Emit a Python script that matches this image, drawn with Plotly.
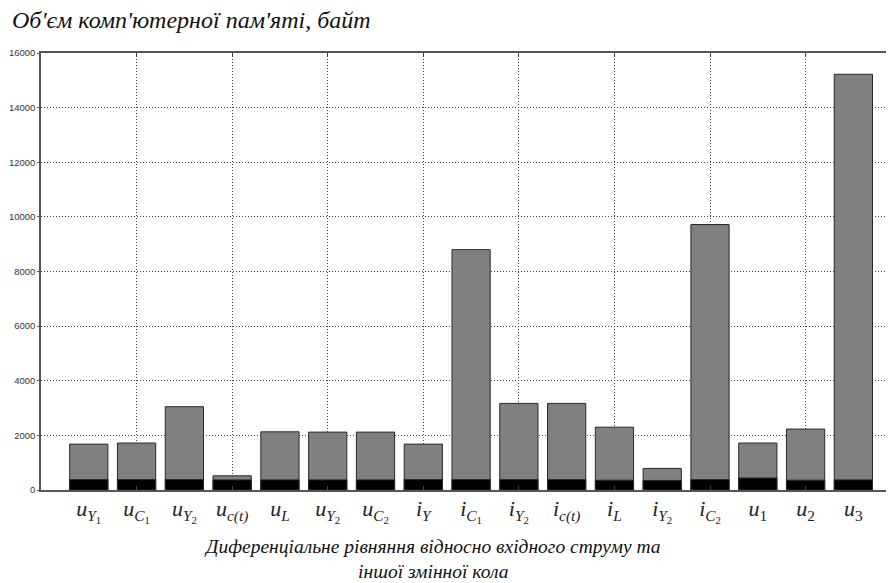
import plotly.graph_objects as go

positions = list(range(1, 18))
labels = [
    "<i>u</i><sub><i>Y</i><sub>1</sub></sub>",
    "<i>u</i><sub><i>C</i><sub>1</sub></sub>",
    "<i>u</i><sub><i>Y</i><sub>2</sub></sub>",
    "<i>u</i><sub><i>c(t)</i></sub>",
    "<i>u</i><sub><i>L</i></sub>",
    "<i>u</i><sub><i>Y</i><sub>2</sub></sub>",
    "<i>u</i><sub><i>C</i><sub>2</sub></sub>",
    "<i>i</i><sub><i>Y</i></sub>",
    "<i>i</i><sub><i>C</i><sub>1</sub></sub>",
    "<i>i</i><sub><i>Y</i><sub>2</sub></sub>",
    "<i>i</i><sub><i>c(t)</i></sub>",
    "<i>i</i><sub><i>L</i></sub>",
    "<i>i</i><sub><i>Y</i><sub>2</sub></sub>",
    "<i>i</i><sub><i>C</i><sub>2</sub></sub>",
    "<i>u</i><sub>1</sub>",
    "<i>u</i><sub>2</sub>",
    "<i>u</i><sub>3</sub>",
]
total_memory = [1680, 1720, 3050, 520, 2130, 2120, 2120, 1680, 8800, 3170, 3170,
                2300, 790, 9720, 1720, 2230, 15220]
base_memory = [380, 380, 380, 370, 370, 370, 370, 380, 380, 380, 380,
               360, 350, 380, 440, 360, 370]
grid_positions = [2, 4, 6, 8, 10, 12, 14, 16]
y_ticks = [0, 2000, 4000, 6000, 8000, 10000, 12000, 14000, 16000]

title_text = "<i>Об'єм комп'ютерної пам'яті, байт</i>"
xlabel_text = "<i>Диференціальне рівняння відносно вхідного струму та</i><br><i>іншої змінної кола</i>"

# page body has an 8px default margin; figure sized to fill the rest of the window
W, H = 886, 575
L, T, B = 33, 45, 93
PH = H - T - B
PW = W - L

fig = go.Figure()
fig.add_trace(go.Bar(x=positions, y=total_memory, width=0.8,
                     marker=dict(color="#808080", line=dict(color="#2a2a2a", width=1)),
                     xaxis="x", yaxis="y", showlegend=False))
fig.add_trace(go.Bar(x=positions, y=base_memory, width=0.8,
                     marker=dict(color="#000000", line=dict(color="#2a2a2a", width=1)),
                     xaxis="x2", yaxis="y", showlegend=False))

xr = [0, 17.85]
fig.update_layout(
    width=W, height=H,
    margin=dict(l=L, r=0, t=T, b=B),
    paper_bgcolor="white", plot_bgcolor="white",
    barmode="overlay",
    title=dict(text=title_text, xref="container", x=4/W, xanchor="left",
               yref="container", y=1-3/H, yanchor="top", pad=dict(t=0, l=0),
               font=dict(family="Liberation Serif", size=24, color="#111")),
    xaxis=dict(range=xr, tickmode="array", tickvals=grid_positions,
               showticklabels=False, showgrid=True, griddash="1px,2px",
               gridcolor="#444", gridwidth=1, zeroline=False, automargin=False,
               showline=True, linecolor="#555", linewidth=1.5, mirror="ticks",
               ticks="inside", ticklen=4, tickcolor="#444"),
    xaxis2=dict(range=xr, overlaying="x", anchor="y", side="bottom",
                tickmode="array", tickvals=positions, ticktext=labels,
                showgrid=False, zeroline=False, showline=False, ticks="",
                automargin=False, ticklabelstandoff=3,
                tickfont=dict(family="Liberation Serif", size=22, color="#222")),
    yaxis=dict(range=[0, 16000], tickmode="array", tickvals=y_ticks, tickformat="d",
               showgrid=True, griddash="1px,2px", gridcolor="#444", gridwidth=1,
               zeroline=False, showline=True, linecolor="#555", linewidth=1.5,
               ticks="outside", ticklen=2, tickcolor="#555", automargin=False,
               tickfont=dict(family="Arial, Liberation Sans", size=9.5, color="#333")),
    annotations=[dict(text=xlabel_text, xref="paper", yref="paper",
                      x=(432-8-L)/PW, y=-(551-(T+PH))/PH, xanchor="center", yanchor="middle",
                      showarrow=False,
                      font=dict(family="Liberation Serif", size=19.5, color="#111"))],
)

fig.write_html("out.html")
